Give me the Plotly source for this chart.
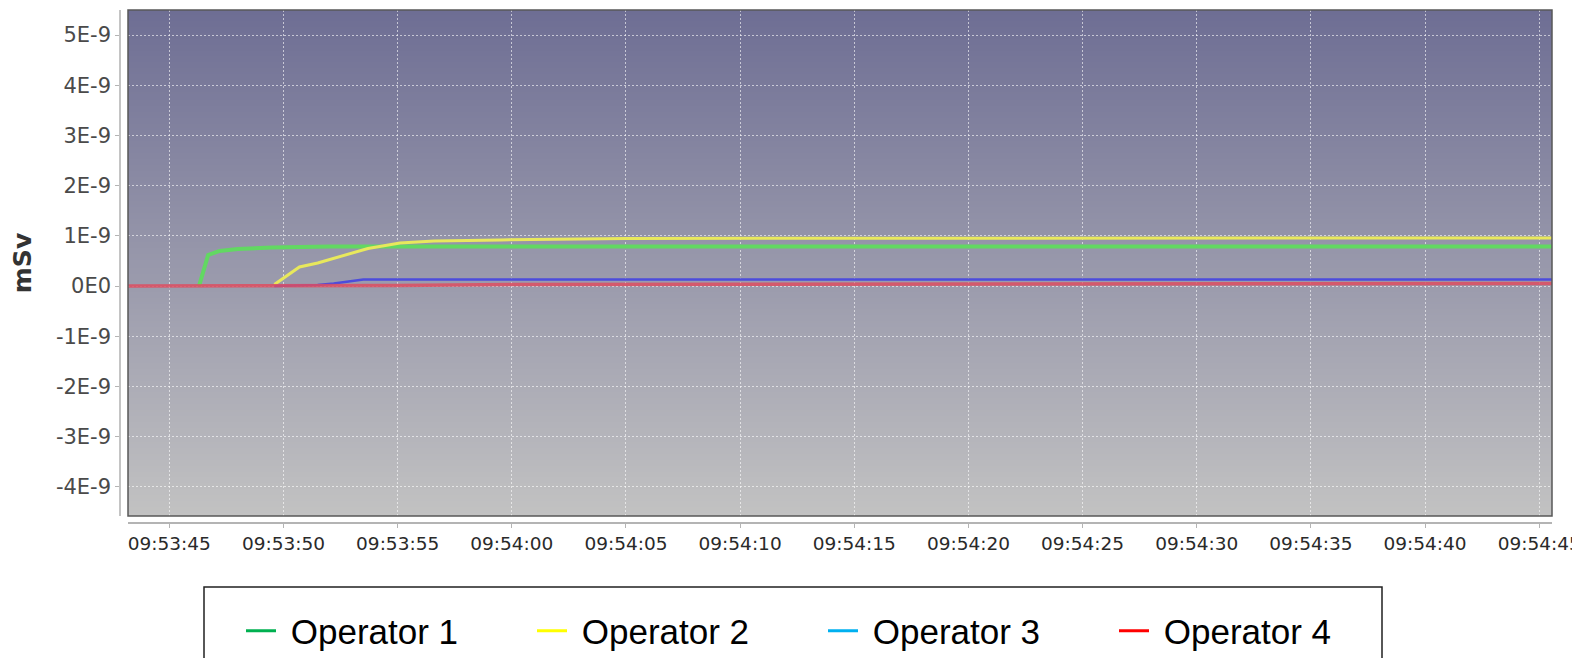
import base64, struct, zlib
import plotly.graph_objects as go

DAY = "2020-01-01 "

# ---- data (times, values in mSv) ----
op1_t = ["09:53:46.3", "09:53:46.7", "09:53:47.2", "09:53:48.0", "09:53:49.5", "09:53:52.0", "09:53:56.0", "09:54:00.0", "09:54:45.6"]
op1_v = [0.0, 0.62e-9, 0.70e-9, 0.74e-9, 0.77e-9, 0.79e-9, 0.79e-9, 0.79e-9, 0.79e-9]

op2_t = ["09:53:49.6", "09:53:50.7", "09:53:51.5", "09:53:53.7", "09:53:55.1", "09:53:56.6", "09:53:59.5", "09:54:05.0", "09:54:45.6"]
op2_v = [0.03e-9, 0.38e-9, 0.46e-9, 0.75e-9, 0.86e-9, 0.90e-9, 0.92e-9, 0.95e-9, 0.96e-9]

op3_t = ["09:53:49.6", "09:53:51.5", "09:53:52.2", "09:53:53.5", "09:54:45.6"]
op3_v = [0.0, 0.02e-9, 0.05e-9, 0.13e-9, 0.13e-9]

op4_t = ["09:53:43.2", "09:53:50.0", "09:53:55.0", "09:54:00.0", "09:54:45.6"]
op4_v = [0.0, 0.0, 0.01e-9, 0.03e-9, 0.05e-9]

series_names = ["Operator 1", "Operator 2", "Operator 3", "Operator 4"]
y_tickvals = [-4e-9, -3e-9, -2e-9, -1e-9, 0, 1e-9, 2e-9, 3e-9, 4e-9, 5e-9]
y_ticktext = ["-4E-9", "-3E-9", "-2E-9", "-1E-9", "0E0", "1E-9", "2E-9", "3E-9", "4E-9", "5E-9"]
x_range = ["09:53:43.19", "09:54:45.56"]
y_range = [-4.58e-9, 5.5e-9]

# ---- styles ----
plot_colors = ["#62d862", "#e8e85c", "#4c4cdc", "rgba(222,78,96,0.85)"]
plot_widths = [4, 3, 2.5, 3.5]
legend_colors = ["#00b050", "#ffff00", "#00b0f0", "#ff0000"]


def gradient_png(top, bottom, h=256):
    raw = b""
    for i in range(h):
        f = i / (h - 1)
        c = bytes(int(round(top[k] + (bottom[k] - top[k]) * f)) for k in range(3))
        raw += b"\x00" + c
    def chunk(tag, data):
        return struct.pack(">I", len(data)) + tag + data + struct.pack(">I", zlib.crc32(tag + data) & 0xffffffff)
    png = b"\x89PNG\r\n\x1a\n"
    png += chunk(b"IHDR", struct.pack(">IIBBBBB", 1, h, 8, 2, 0, 0, 0))
    png += chunk(b"IDAT", zlib.compress(raw))
    png += chunk(b"IEND", b"")
    return "data:image/png;base64," + base64.b64encode(png).decode()


# page body has an 8px default margin; figure coords = window coords - 8
OFF = 8
W, H = 1580, 658
ml, mr, mt, mb = 104, 36, 2, 136
pw, ph = W - ml - mr, H - mt - mb
PB = H - mb  # paper bottom in figure px


def fx(xw):
    return (xw - OFF - ml) / pw


def fy(yw):
    return (PB - (yw - OFF)) / ph


xd0 = fx(128)
yd0 = fy(516)
ypos = fx(120)
xpos = fy(523)

fig = go.Figure()
all_t = [op1_t, op2_t, op3_t, op4_t]
all_v = [op1_v, op2_v, op3_v, op4_v]
for i in range(4):
    fig.add_trace(go.Scatter(
        x=[DAY + t for t in all_t[i]], y=all_v[i], mode="lines",
        line=dict(color=plot_colors[i], width=plot_widths[i]),
        name=series_names[i], showlegend=False, hoverinfo="skip"))
for i in range(4):
    fig.add_trace(go.Scatter(
        x=[None], y=[None], mode="lines",
        line=dict(color=legend_colors[i], width=3),
        name="\u00a0" + series_names[i], showlegend=True))

fig.update_layout(
    width=W, height=H,
    margin=dict(l=ml, r=mr, t=mt, b=mb, autoexpand=False),
    paper_bgcolor="white",
    plot_bgcolor="rgba(0,0,0,0)",
    xaxis=dict(
        domain=[xd0, 1], anchor="free", position=xpos,
        type="date", range=[DAY + x_range[0], DAY + x_range[1]],
        tick0=DAY + "09:53:45", dtick=5000, tickformat="%H:%M:%S",
        showgrid=True, gridcolor="rgba(255,255,255,0.6)", griddash="2px,2px", gridwidth=1,
        showline=True, linecolor="#b4b4b4", linewidth=1.5,
        ticks="outside", ticklen=4, tickcolor="#b4b4b4",
        tickfont=dict(family="DejaVu Sans", size=18.5, color="#2a2a2a"),
        zeroline=False, automargin=False,
    ),
    yaxis=dict(
        domain=[yd0, 1], anchor="free", position=ypos,
        range=y_range, tickvals=y_tickvals, ticktext=y_ticktext,
        showgrid=True, gridcolor="rgba(255,255,255,0.6)", griddash="2px,2px", gridwidth=1,
        showline=True, linecolor="#c4c4c4", linewidth=1.5,
        ticks="outside", ticklen=4, tickcolor="#b4b4b4",
        tickfont=dict(family="DejaVu Sans", size=21, color="#4a4a4a"),
        zeroline=False, automargin=False,
        title=dict(text="<b>mSv</b>", font=dict(family="DejaVu Sans", size=25, color="#333333"), standoff=19),
    ),
    legend=dict(
        orientation="h", x=fx(241), xanchor="left",
        y=fy(631), yanchor="middle",
        entrywidth=246, entrywidthmode="pixels",
        font=dict(family="Liberation Sans, Arial", size=35, color="black"),
        bgcolor="rgba(0,0,0,0)", borderwidth=0,
    ),
    images=[dict(
        source=gradient_png((110, 110, 148), (194, 194, 194)),
        xref="paper", yref="paper", x=xd0, y=1, sizex=1 - xd0, sizey=1 - yd0,
        xanchor="left", yanchor="top", sizing="stretch", layer="below")],
    shapes=[
        dict(type="rect", xref="x domain", yref="y domain", x0=0, x1=1, y0=0, y1=1,
             line=dict(color="#585858", width=1.5), layer="above"),
        dict(type="rect", xref="paper", yref="paper",
             x0=fx(204), x1=fx(1382), y0=fy(730), y1=fy(587),
             line=dict(color="#202020", width=1.5)),
    ],
)

fig.write_html("out.html")
